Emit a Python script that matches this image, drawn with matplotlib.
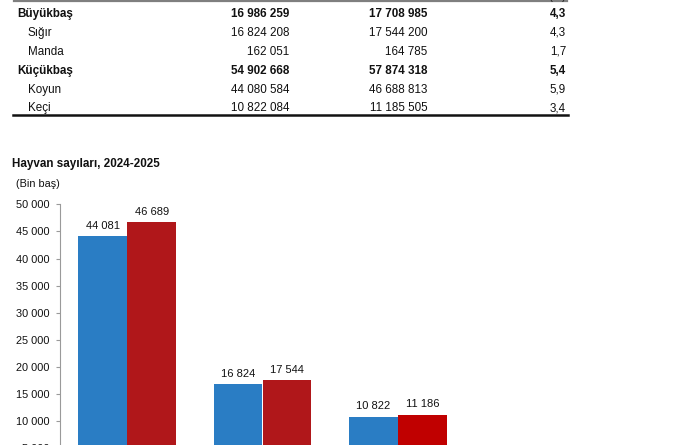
import matplotlib
matplotlib.use("Agg")
import matplotlib.pyplot as plt
from matplotlib.lines import Line2D
import numpy as np

plt.rcParams['font.family'] = ['Liberation Sans', 'DejaVu Sans']

# ---- table data ----
table_labels = ["Büyükbaş", "Sığır", "Manda", "Küçükbaş", "Koyun", "Keçi"]
table_bold = [True, False, False, True, False, False]
table_2024 = [16986259, 16824208, 162051, 54902668, 44080584, 10822084]
table_2025 = [17708985, 17544200, 164785, 57874318, 46688813, 11185505]
table_change = [4.3, 4.3, 1.7, 5.4, 5.9, 3.4]

# ---- chart data ----
categories = ["Koyun", "Sığır", "Keçi"]
values_2024 = [44081, 16824, 10822]
values_2025 = [46689, 17544, 11186]
y_ticks = [5000, 10000, 15000, 20000, 25000, 30000, 35000, 40000, 45000, 50000]

title = "Hayvan sayıları, 2024-2025"
unit = "(Bin baş)"

W, H = 673, 445
fig = plt.figure(figsize=(W / 100, H / 100), dpi=100)
fig.patch.set_facecolor("white")

def fx(x):
    return x / W

def fy(y):
    return 1 - y / H

def fmt(v):
    return f"{v:,}".replace(",", " ")

def fmt_dec(v):
    return f"{v:.1f}".replace(".", ",")

# table lines
fig.add_artist(Line2D([fx(14), fx(567)], [fy(0.5), fy(0.5)], color="#7f7f7f", lw=1.6))
fig.add_artist(Line2D([fx(13), fx(568)], [fy(115), fy(115)], color="#111111", lw=1.8))
fig.text(fx(566), fy(-1.5), "(%)", ha="right", va="baseline", fontsize=8.3, color="#222222")

row_y = [14, 32.8, 51.7, 71, 90, 108.3]
tsize = 8.4
for lbl, b, v1, v2, ch, y in zip(table_labels, table_bold, table_2024, table_2025, table_change, row_y):
    w = "bold" if b else "normal"
    x0 = 17 if b else 28
    fig.text(fx(x0), fy(y), lbl, ha="left", va="center", fontsize=tsize, fontweight=w, color="#111111")
    fig.text(fx(289.5), fy(y), fmt(v1), ha="right", va="center", fontsize=tsize, fontweight=w, color="#111111")
    fig.text(fx(427.5), fy(y), fmt(v2), ha="right", va="center", fontsize=tsize, fontweight=w, color="#111111")
    fig.text(fx(566), fy(y), fmt_dec(ch), ha="right", va="center", fontsize=tsize, fontweight=w, color="#111111")

# chart title
fig.text(fx(12), fy(164), title, ha="left", va="center", fontsize=8.4, fontweight="bold", color="#111111")
fig.text(fx(16.5), fy(184), unit, ha="left", va="center", fontsize=7.8, color="#111111")

# axes
top_px, zero_px = 204.3, 475.6
left_px, right_px = 59.5, 465.5
ax = fig.add_axes([fx(left_px), 1 - zero_px / H, (right_px - left_px) / W, (zero_px - top_px) / H])
ax.set_facecolor("none")
ax.set_xlim(-0.5, len(categories) - 0.5)
ax.set_ylim(0, 50000)

x = np.arange(len(categories))
bw = 0.362
colors_2025 = ["#B0171A", "#B0171A", "#C00000"]
ax.bar(x - bw / 2, values_2024, width=bw, color="#2A7DC4", linewidth=0)
ax.bar(x + bw / 2, values_2025, width=bw, color=colors_2025, linewidth=0)

for xi, v in zip(x - bw / 2, values_2024):
    ax.annotate(fmt(v), (xi, v), xytext=(0, 7.6), textcoords="offset points",
                ha="center", va="center", fontsize=8.0, color="#111111")
for xi, v in zip(x + bw / 2, values_2025):
    ax.annotate(fmt(v), (xi, v), xytext=(0, 7.6), textcoords="offset points",
                ha="center", va="center", fontsize=8.0, color="#111111")

ax.set_yticks(y_ticks)
ax.set_yticklabels([fmt(t) for t in y_ticks])
ax.set_xticks(x)
ax.set_xticklabels([])
for s in ["top", "right", "bottom"]:
    ax.spines[s].set_visible(False)
ax.spines["left"].set_color("#9a9a9a")
ax.spines["left"].set_linewidth(0.8)
ax.tick_params(axis="y", direction="out", length=3, width=0.8, color="#9a9a9a",
               labelsize=7.9, labelcolor="#111111", pad=4)
ax.tick_params(axis="x", length=0)

fig.savefig("out.png", dpi=100, facecolor="white")
